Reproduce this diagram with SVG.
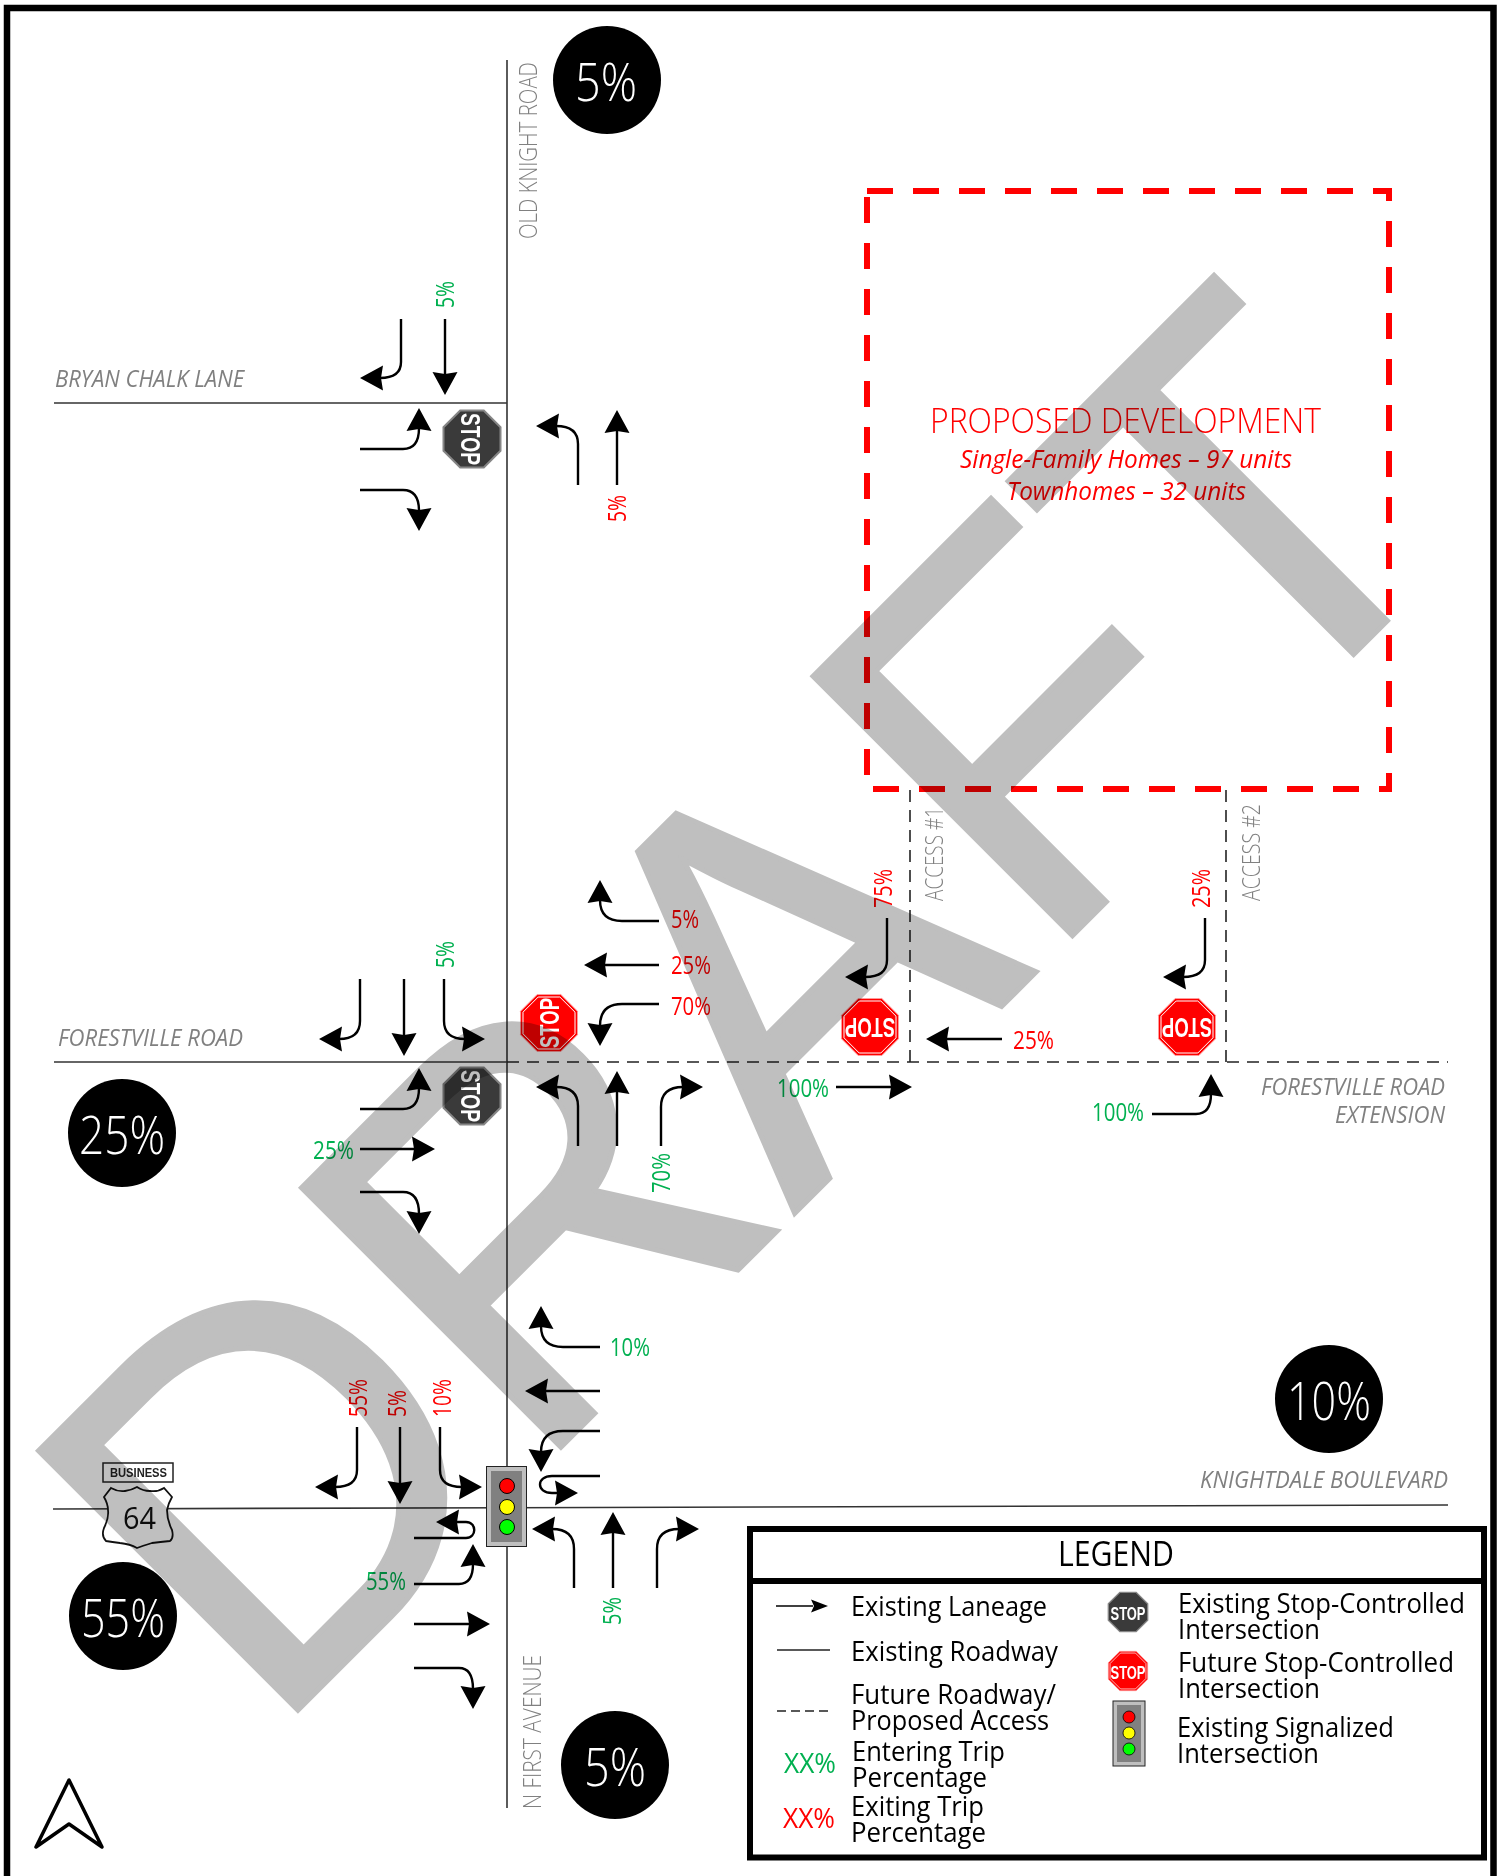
<svg xmlns="http://www.w3.org/2000/svg" xmlns:xlink="http://www.w3.org/1999/xlink" width="1504" height="1876" viewBox="0 0 1504 1876">
<style>
text{font-family:"Open Sans","Liberation Sans",sans-serif;font-weight:400}
.a{fill:none;stroke:#000;stroke-width:2.400;marker-end:url(#h)}
.road{fill:none;stroke:#333;stroke-width:1.600}
.dash{fill:none;stroke:#222;stroke-width:1.600;stroke-dasharray:12 8}
.g{fill:#00b050;font-size:26px}
.r{fill:#f00;font-size:26px}
.gy{fill:#808080;font-size:26px;font-weight:300}
.i{font-style:italic;fill:#808080;font-size:23px}
.cir{fill:#000}
.ct{fill:#fff;font-size:54px;text-anchor:middle;font-weight:300}
.l{fill:#000;font-size:28px}
.s{font-family:"Liberation Sans",sans-serif;font-weight:700;fill:#fff;text-anchor:middle}
</style>
<defs>
<marker id="h" markerUnits="userSpaceOnUse" markerWidth="26" markerHeight="28" refX="3" refY="13" orient="auto" overflow="visible"><path d="M0,0.500 L23,13 L0,25.500 L2,13Z" fill="#000"/></marker>
<marker id="h2" markerUnits="userSpaceOnUse" markerWidth="18" markerHeight="16" refX="2" refY="7" orient="auto" overflow="visible"><path d="M0,0.500 L17,7 L0,13.500 L3,7Z" fill="#000"/></marker>
<polygon id="octD" points="-11.800,-28.500 11.800,-28.500 28.500,-11.800 28.500,11.800 11.800,28.500 -11.800,28.500 -28.500,11.800 -28.500,-11.800" fill="#3a3a3a" stroke="#868686" stroke-width="2"/>
<g id="octR"><polygon points="-11.800,-28.500 11.800,-28.500 28.500,-11.800 28.500,11.800 11.800,28.500 -11.800,28.500 -28.500,11.800 -28.500,-11.800" fill="#f00" stroke="#ff9a9a" stroke-width="1"/><polygon points="-10.800,-26 10.800,-26 26,-10.800 26,10.800 10.800,26 -10.800,26 -26,10.800 -26,-10.800" fill="none" stroke="#fff" stroke-width="1"/></g>
</defs>
<rect width="1504" height="1876" fill="#fff"/>
<path id="frame" d="M7,1876 V8 H1493.500 V1876" fill="none" stroke="#000" stroke-width="6.500"/>

<g id="connectors">
<path class="road" d="M507,60 V1808"/>
<path class="road" d="M54,403 H507"/>
<path class="road" d="M54,1062 H507"/>
<path class="road" d="M53,1509 L1448,1505"/>
<path class="dash" d="M507,1062 H1448"/>
<path class="dash" d="M910,790 V1062"/>
<path class="dash" d="M1226,790 V1062"/>
<path class="a" d="M401,319 V362 Q401,378 380,378"/>
<path class="a" d="M445,319 V375"/>
<path class="a" d="M360,449 H403 Q419,449 419,428"/>
<path class="a" d="M360,490 H403 Q419,490 419,511"/>
<path class="a" d="M578,485 V444 Q578,426 556,426"/>
<path class="a" d="M617,485 V430"/>
<path class="a" d="M360,979 V1021 Q360,1039 339,1039"/>
<path class="a" d="M404,979 V1036"/>
<path class="a" d="M444,979 V1021 Q444,1039 465,1039"/>
<path class="a" d="M360,1109 H403 Q419,1109 419,1088"/>
<path class="a" d="M360,1149 H415"/>
<path class="a" d="M360,1192 H403 Q419,1192 419,1214"/>
<path class="a" d="M578,1146 V1106 Q578,1087 556,1087"/>
<path class="a" d="M617,1146 V1091"/>
<path class="a" d="M661,1146 V1107 Q661,1087 683,1087"/>
<path class="a" d="M659,921 H622 Q600,921 600,900"/>
<path class="a" d="M659,965 H604"/>
<path class="a" d="M659,1004 H622 Q600,1004 600,1026"/>
<path class="a" d="M887,918 V960 Q887,977 865,977"/>
<path class="a" d="M1002,1039 H946"/>
<path class="a" d="M836,1087 H892"/>
<path class="a" d="M1205,918 V960 Q1205,977 1183,977"/>
<path class="a" d="M1152,1114 H1196 Q1211,1114 1211,1094"/>
<path class="a" d="M357,1427 V1470 Q357,1487 335,1487"/>
<path class="a" d="M400,1427 V1484"/>
<path class="a" d="M440,1427 V1470 Q440,1487 462,1487"/>
<path class="a" d="M414,1538 H466 C477,1538 477,1522 466,1522 H456"/>
<path class="a" d="M414,1584 H459 Q473,1584 473,1564"/>
<path class="a" d="M414,1624 H470"/>
<path class="a" d="M414,1668 H459 Q473,1668 473,1689"/>
<path class="a" d="M600,1347 H563 Q541,1347 541,1326"/>
<path class="a" d="M600,1391 H545"/>
<path class="a" d="M600,1431 H563 Q541,1431 541,1452"/>
<path class="a" d="M600,1476 H552 C536,1476 536,1493 552,1493 H558"/>
<path class="a" d="M574,1588 V1549 Q574,1529 552,1529"/>
<path class="a" d="M613,1588 V1532"/>
<path class="a" d="M657,1588 V1549 Q657,1529 679,1529"/>
</g>

<g id="proposed-development">
<rect x="867" y="191" width="522" height="598" fill="none" stroke="#f00" stroke-width="6" stroke-dasharray="26 20"/>
<text x="930" y="433" fill="#f00" font-size="34" textLength="391" lengthAdjust="spacingAndGlyphs" style="font-weight:300">PROPOSED DEVELOPMENT</text>
<text x="960" y="468" fill="#f00" font-size="25" font-style="italic" textLength="332" lengthAdjust="spacingAndGlyphs">Single-Family Homes – 97 units</text>
<text x="1007" y="500" fill="#f00" font-size="25" font-style="italic" textLength="239" lengthAdjust="spacingAndGlyphs">Townhomes – 32 units</text>
</g>

<g id="road-labels">
<text class="gy" transform="translate(537,239) rotate(-90)" textLength="177" lengthAdjust="spacingAndGlyphs">OLD KNIGHT ROAD</text>
<text class="gy" transform="translate(541,1809) rotate(-90)" textLength="154" lengthAdjust="spacingAndGlyphs">N FIRST AVENUE</text>
<text class="gy" transform="translate(943,901) rotate(-90)" textLength="94" lengthAdjust="spacingAndGlyphs">ACCESS #1</text>
<text class="gy" transform="translate(1260,901) rotate(-90)" textLength="97" lengthAdjust="spacingAndGlyphs">ACCESS #2</text>
<text class="i" x="55" y="387" textLength="189" lengthAdjust="spacingAndGlyphs">BRYAN CHALK LANE</text>
<text class="i" x="58" y="1046" textLength="185" lengthAdjust="spacingAndGlyphs">FORESTVILLE ROAD</text>
<text class="i" x="1261" y="1095" textLength="184" lengthAdjust="spacingAndGlyphs">FORESTVILLE ROAD</text>
<text class="i" x="1335" y="1123" textLength="110" lengthAdjust="spacingAndGlyphs">EXTENSION</text>
<text class="i" x="1200" y="1488" textLength="248" lengthAdjust="spacingAndGlyphs">KNIGHTDALE BOULEVARD</text>
</g>

<g id="percent-labels">
<text class="g" transform="translate(454,308) rotate(-90)" textLength="27" lengthAdjust="spacingAndGlyphs">5%</text>
<text class="r" transform="translate(626,522) rotate(-90)" textLength="27" lengthAdjust="spacingAndGlyphs">5%</text>
<text class="g" transform="translate(454,968) rotate(-90)" textLength="27" lengthAdjust="spacingAndGlyphs">5%</text>
<text class="g" transform="translate(670,1193) rotate(-90)" textLength="40" lengthAdjust="spacingAndGlyphs">70%</text>
<text class="r" transform="translate(892,908) rotate(-90)" textLength="39" lengthAdjust="spacingAndGlyphs">75%</text>
<text class="r" transform="translate(1210,908) rotate(-90)" textLength="39" lengthAdjust="spacingAndGlyphs">25%</text>
<text class="r" transform="translate(367,1417) rotate(-90)" textLength="38" lengthAdjust="spacingAndGlyphs">55%</text>
<text class="r" transform="translate(406,1417) rotate(-90)" textLength="27" lengthAdjust="spacingAndGlyphs">5%</text>
<text class="r" transform="translate(451,1417) rotate(-90)" textLength="38" lengthAdjust="spacingAndGlyphs">10%</text>
<text class="g" transform="translate(621,1625) rotate(-90)" textLength="28" lengthAdjust="spacingAndGlyphs">5%</text>
<text class="g" x="313" y="1159" textLength="41" lengthAdjust="spacingAndGlyphs">25%</text>
<text class="r" x="671" y="928" textLength="28" lengthAdjust="spacingAndGlyphs">5%</text>
<text class="r" x="671" y="974" textLength="40" lengthAdjust="spacingAndGlyphs">25%</text>
<text class="r" x="671" y="1015" textLength="40" lengthAdjust="spacingAndGlyphs">70%</text>
<text class="r" x="1013" y="1049" textLength="41" lengthAdjust="spacingAndGlyphs">25%</text>
<text class="g" x="777" y="1097" textLength="52" lengthAdjust="spacingAndGlyphs">100%</text>
<text class="g" x="1092" y="1121" textLength="52" lengthAdjust="spacingAndGlyphs">100%</text>
<text class="g" x="610" y="1356" textLength="40" lengthAdjust="spacingAndGlyphs">10%</text>
<text class="g" x="366" y="1590" textLength="40" lengthAdjust="spacingAndGlyphs">55%</text>
</g>

<g id="stop-bryan"><use xlink:href="#octD" href="#octD" x="472" y="439"/><text class="s" transform="translate(461,439) rotate(90)" font-size="28" textLength="52" lengthAdjust="spacingAndGlyphs" x="-26" style="text-anchor:start">STOP</text></g>
<g id="stop-forestville"><use xlink:href="#octD" href="#octD" x="472" y="1096"/><text class="s" transform="translate(461,1096) rotate(90)" font-size="28" textLength="52" lengthAdjust="spacingAndGlyphs" x="-26" style="text-anchor:start">STOP</text></g>
<g id="stop-future-1"><use xlink:href="#octR" href="#octR" x="549" y="1023"/><text class="s" transform="translate(559,1023) rotate(-90)" font-size="27" textLength="50" lengthAdjust="spacingAndGlyphs" x="-25" style="text-anchor:start">STOP</text></g>
<g id="stop-access-1"><use xlink:href="#octR" href="#octR" x="870" y="1027"/><text class="s" transform="translate(870,1018) rotate(180)" font-size="27" textLength="50" lengthAdjust="spacingAndGlyphs" x="-25" style="text-anchor:start">STOP</text></g>
<g id="stop-access-2"><use xlink:href="#octR" href="#octR" x="1187" y="1027"/><text class="s" transform="translate(1187,1018) rotate(180)" font-size="27" textLength="50" lengthAdjust="spacingAndGlyphs" x="-25" style="text-anchor:start">STOP</text></g>

<g id="signal">
<rect x="486.500" y="1466.500" width="40" height="80" fill="#bfbfbf" stroke="#222" stroke-width="1"/>
<rect x="491" y="1471" width="31" height="71" fill="#808080"/>
<circle cx="507" cy="1486" r="7.500" fill="#f00" stroke="#000"/>
<circle cx="507" cy="1507" r="7.500" fill="#ff0" stroke="#000"/>
<circle cx="507" cy="1527" r="7.500" fill="#0f0" stroke="#000"/>
</g>

<g id="shield-64">
<rect x="103" y="1463" width="70" height="19" fill="#fff" stroke="#222" stroke-width="1.500"/>
<text x="110" y="1477" font-size="13.500" textLength="57" lengthAdjust="spacingAndGlyphs" style="font-family:'Liberation Sans',sans-serif;font-weight:700" fill="#222">BUSINESS</text>
<path d="M104,1497 L111,1488 Q118,1492 125,1491 Q132,1490 137,1487 Q143,1491 150,1491 Q158,1492 164,1488 L172,1497 Q168,1504 167,1510 Q167,1520 172,1530 Q174,1538 170,1541 Q160,1542 152,1543 Q142,1546 137,1548 Q130,1544 120,1543 Q112,1542 106,1541 Q101,1536 104,1528 Q109,1518 108,1510 Q108,1504 104,1497Z" fill="#fff" stroke="#111" stroke-width="1.800"/>
<text x="123" y="1529" font-size="31" textLength="33" lengthAdjust="spacingAndGlyphs" fill="#111">64</text>
</g>

<g id="pct-north"><circle class="cir" cx="607" cy="80" r="54"/><text class="ct" x="606" y="101" textLength="62" lengthAdjust="spacingAndGlyphs">5%</text></g>
<g id="pct-west"><circle class="cir" cx="122" cy="1133" r="54"/><text class="ct" x="122" y="1154" textLength="86" lengthAdjust="spacingAndGlyphs">25%</text></g>
<g id="pct-east"><circle class="cir" cx="1329" cy="1399" r="54"/><text class="ct" x="1329" y="1420" textLength="84" lengthAdjust="spacingAndGlyphs">10%</text></g>
<g id="pct-sw"><circle class="cir" cx="123" cy="1616" r="54"/><text class="ct" x="123" y="1637" textLength="84" lengthAdjust="spacingAndGlyphs">55%</text></g>
<g id="pct-south"><circle class="cir" cx="615" cy="1765" r="54"/><text class="ct" x="615" y="1786" textLength="62" lengthAdjust="spacingAndGlyphs">5%</text></g>

<g id="north-arrow"><path d="M69,1780 L36,1847 L69,1824 L102,1847Z" fill="none" stroke="#000" stroke-width="3.500" stroke-linejoin="round"/></g>

<g id="legend">
<rect x="750" y="1529" width="734" height="328.500" fill="#fff" stroke="#000" stroke-width="6"/>
<path d="M750,1581 H1484" stroke="#000" stroke-width="6"/>
<text x="1058" y="1566" font-size="34" textLength="116" lengthAdjust="spacingAndGlyphs" fill="#000">LEGEND</text>
<path d="M776,1606 H813" stroke="#000" stroke-width="1.500" marker-end="url(#h2)"/>
<path d="M777,1650 H830" stroke="#222" stroke-width="1.300"/>
<path d="M777,1711 H830" stroke="#222" stroke-width="1.300" stroke-dasharray="9 5"/>
<text class="l" x="851" y="1616" textLength="196" lengthAdjust="spacingAndGlyphs">Existing Laneage</text>
<text class="l" x="851" y="1661" textLength="207" lengthAdjust="spacingAndGlyphs">Existing Roadway</text>
<text class="l" x="851" y="1704" textLength="205" lengthAdjust="spacingAndGlyphs">Future Roadway/</text>
<text class="l" x="851" y="1730" textLength="198" lengthAdjust="spacingAndGlyphs">Proposed Access</text>
<text class="l" x="852" y="1761" textLength="153" lengthAdjust="spacingAndGlyphs">Entering Trip</text>
<text class="l" x="852" y="1787" textLength="135" lengthAdjust="spacingAndGlyphs">Percentage</text>
<text class="l" x="851" y="1816" textLength="133" lengthAdjust="spacingAndGlyphs">Exiting Trip</text>
<text class="l" x="851" y="1842" textLength="135" lengthAdjust="spacingAndGlyphs">Percentage</text>
<text x="784" y="1773" font-size="28" fill="#00b050" textLength="52" lengthAdjust="spacingAndGlyphs">XX%</text>
<text x="783" y="1828" font-size="28" fill="#f00" textLength="52" lengthAdjust="spacingAndGlyphs">XX%</text>
<use xlink:href="#octD" href="#octD" transform="translate(1128,1612) scale(.69)"/>
<text class="s" x="1128" y="1620" font-size="19" textLength="35" lengthAdjust="spacingAndGlyphs">STOP</text>
<use xlink:href="#octR" href="#octR" transform="translate(1128,1671) scale(.69)"/>
<text class="s" x="1128" y="1679" font-size="19" textLength="35" lengthAdjust="spacingAndGlyphs">STOP</text>
<rect x="1113" y="1701" width="32" height="65" fill="#bfbfbf" stroke="#222" stroke-width="1"/>
<rect x="1117" y="1705" width="24" height="57" fill="#808080"/>
<circle cx="1129" cy="1717" r="6" fill="#f00" stroke="#000" stroke-width=".8"/>
<circle cx="1129" cy="1733" r="6" fill="#ff0" stroke="#000" stroke-width=".8"/>
<circle cx="1129" cy="1749" r="6" fill="#0f0" stroke="#000" stroke-width=".8"/>
<text class="l" x="1178" y="1613" textLength="287" lengthAdjust="spacingAndGlyphs">Existing Stop-Controlled</text>
<text class="l" x="1178" y="1639" textLength="142" lengthAdjust="spacingAndGlyphs">Intersection</text>
<text class="l" x="1178" y="1672" textLength="276" lengthAdjust="spacingAndGlyphs">Future Stop-Controlled</text>
<text class="l" x="1178" y="1698" textLength="142" lengthAdjust="spacingAndGlyphs">Intersection</text>
<text class="l" x="1177" y="1737" textLength="217" lengthAdjust="spacingAndGlyphs">Existing Signalized</text>
<text class="l" x="1177" y="1763" textLength="142" lengthAdjust="spacingAndGlyphs">Intersection</text>
</g>

<text id="draft" transform="translate(268,1740) rotate(-45) scale(1,1.035)" font-size="515" dx="0 0 0 8 -8" fill="#bfbfbf" stroke="#bfbfbf" stroke-width="5" style="font-family:'Liberation Sans',sans-serif;font-weight:400;mix-blend-mode:multiply">DRAFT</text>
</svg>
